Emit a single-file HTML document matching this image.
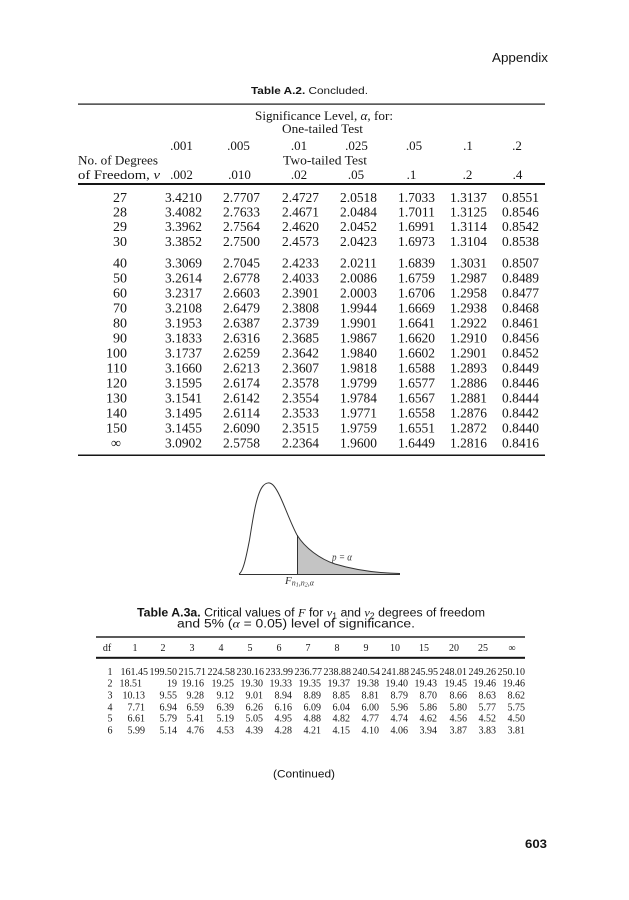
<!DOCTYPE html>
<html>
<head>
<meta charset="utf-8">
<style>
  html,body{margin:0;padding:0;background:#fff;}
  svg{display:block;}
  .serif{font-family:"Liberation Serif",serif;}
  .sans{font-family:"Liberation Sans",sans-serif;}
</style>
</head>
<body>
<svg width="629" height="900" viewBox="0 0 629 900" xmlns="http://www.w3.org/2000/svg">
  <rect width="629" height="900" fill="#fff"/>
  <g fill="#151515">
    <text class="sans" x="492" y="62" font-size="13" textLength="56" lengthAdjust="spacingAndGlyphs">Appendix</text>
    <text class="sans" x="251" y="94" font-size="10.5" textLength="117" lengthAdjust="spacingAndGlyphs"><tspan font-weight="bold">Table A.2.</tspan> Concluded.</text>

    <rect x="78" y="103.5" width="467" height="1.2"/>
    <rect x="78" y="183" width="467" height="2"/>
    <rect x="78" y="454.5" width="467" height="1.5"/>

    <g class="serif" font-size="13">
      <text x="255" y="120" textLength="138" lengthAdjust="spacingAndGlyphs">Significance Level, <tspan font-style="italic">α</tspan>, for:</text>
      <text x="282" y="133" textLength="81" lengthAdjust="spacingAndGlyphs">One-tailed Test</text>
      <text x="283" y="164.5" textLength="84" lengthAdjust="spacingAndGlyphs">Two-tailed Test</text>
      <text x="78" y="164.5" textLength="80" lengthAdjust="spacingAndGlyphs">No. of Degrees</text>
      <text x="78" y="179" textLength="82" lengthAdjust="spacingAndGlyphs">of Freedom, <tspan font-style="italic">ν</tspan></text>
    </g>
    <g class="serif" font-size="13" text-anchor="middle">
      <text x="181.5" y="150">.001</text>
      <text x="238.5" y="150">.005</text>
      <text x="299" y="150">.01</text>
      <text x="356.5" y="150">.025</text>
      <text x="414" y="150">.05</text>
      <text x="468" y="150">.1</text>
      <text x="517" y="150">.2</text>
      <text x="181.5" y="179">.002</text>
      <text x="239.5" y="179">.010</text>
      <text x="299" y="179">.02</text>
      <text x="356" y="179">.05</text>
      <text x="411.5" y="179">.1</text>
      <text x="467.5" y="179">.2</text>
      <text x="517.5" y="179">.4</text>
    </g>

    <g class="serif" font-size="14">
      <g text-anchor="end">
        <text x="127" y="201.8">27</text>
        <text x="127" y="216.5">28</text>
        <text x="127" y="231.2">29</text>
        <text x="127" y="245.9">30</text>
        <text x="127" y="267.7">40</text>
        <text x="127" y="282.7">50</text>
        <text x="127" y="297.7">60</text>
        <text x="127" y="312.7">70</text>
        <text x="127" y="327.7">80</text>
        <text x="127" y="342.7">90</text>
        <text x="127" y="357.7">100</text>
        <text x="127" y="372.7">110</text>
        <text x="127" y="387.7">120</text>
        <text x="127" y="402.7">130</text>
        <text x="127" y="417.7">140</text>
        <text x="127" y="432.7">150</text>
      </g>
      <text x="116" y="447.7" text-anchor="middle">∞</text>
    </g>
  </g>

  <g class="serif" font-size="14" fill="#151515">
    <g>
      <text x="165" y="201.8" textLength="37" lengthAdjust="spacingAndGlyphs">3.4210</text>
      <text x="223" y="201.8" textLength="37" lengthAdjust="spacingAndGlyphs">2.7707</text>
      <text x="282" y="201.8" textLength="37" lengthAdjust="spacingAndGlyphs">2.4727</text>
      <text x="340" y="201.8" textLength="37" lengthAdjust="spacingAndGlyphs">2.0518</text>
      <text x="398" y="201.8" textLength="37" lengthAdjust="spacingAndGlyphs">1.7033</text>
      <text x="450" y="201.8" textLength="37" lengthAdjust="spacingAndGlyphs">1.3137</text>
      <text x="502" y="201.8" textLength="37" lengthAdjust="spacingAndGlyphs">0.8551</text>
    </g>
    <g>
      <text x="165" y="216.5" textLength="37" lengthAdjust="spacingAndGlyphs">3.4082</text>
      <text x="223" y="216.5" textLength="37" lengthAdjust="spacingAndGlyphs">2.7633</text>
      <text x="282" y="216.5" textLength="37" lengthAdjust="spacingAndGlyphs">2.4671</text>
      <text x="340" y="216.5" textLength="37" lengthAdjust="spacingAndGlyphs">2.0484</text>
      <text x="398" y="216.5" textLength="37" lengthAdjust="spacingAndGlyphs">1.7011</text>
      <text x="450" y="216.5" textLength="37" lengthAdjust="spacingAndGlyphs">1.3125</text>
      <text x="502" y="216.5" textLength="37" lengthAdjust="spacingAndGlyphs">0.8546</text>
    </g>
    <g>
      <text x="165" y="231.2" textLength="37" lengthAdjust="spacingAndGlyphs">3.3962</text>
      <text x="223" y="231.2" textLength="37" lengthAdjust="spacingAndGlyphs">2.7564</text>
      <text x="282" y="231.2" textLength="37" lengthAdjust="spacingAndGlyphs">2.4620</text>
      <text x="340" y="231.2" textLength="37" lengthAdjust="spacingAndGlyphs">2.0452</text>
      <text x="398" y="231.2" textLength="37" lengthAdjust="spacingAndGlyphs">1.6991</text>
      <text x="450" y="231.2" textLength="37" lengthAdjust="spacingAndGlyphs">1.3114</text>
      <text x="502" y="231.2" textLength="37" lengthAdjust="spacingAndGlyphs">0.8542</text>
    </g>
    <g>
      <text x="165" y="245.9" textLength="37" lengthAdjust="spacingAndGlyphs">3.3852</text>
      <text x="223" y="245.9" textLength="37" lengthAdjust="spacingAndGlyphs">2.7500</text>
      <text x="282" y="245.9" textLength="37" lengthAdjust="spacingAndGlyphs">2.4573</text>
      <text x="340" y="245.9" textLength="37" lengthAdjust="spacingAndGlyphs">2.0423</text>
      <text x="398" y="245.9" textLength="37" lengthAdjust="spacingAndGlyphs">1.6973</text>
      <text x="450" y="245.9" textLength="37" lengthAdjust="spacingAndGlyphs">1.3104</text>
      <text x="502" y="245.9" textLength="37" lengthAdjust="spacingAndGlyphs">0.8538</text>
    </g>
    <g>
      <text x="165" y="267.7" textLength="37" lengthAdjust="spacingAndGlyphs">3.3069</text>
      <text x="223" y="267.7" textLength="37" lengthAdjust="spacingAndGlyphs">2.7045</text>
      <text x="282" y="267.7" textLength="37" lengthAdjust="spacingAndGlyphs">2.4233</text>
      <text x="340" y="267.7" textLength="37" lengthAdjust="spacingAndGlyphs">2.0211</text>
      <text x="398" y="267.7" textLength="37" lengthAdjust="spacingAndGlyphs">1.6839</text>
      <text x="450" y="267.7" textLength="37" lengthAdjust="spacingAndGlyphs">1.3031</text>
      <text x="502" y="267.7" textLength="37" lengthAdjust="spacingAndGlyphs">0.8507</text>
    </g>
    <g>
      <text x="165" y="282.7" textLength="37" lengthAdjust="spacingAndGlyphs">3.2614</text>
      <text x="223" y="282.7" textLength="37" lengthAdjust="spacingAndGlyphs">2.6778</text>
      <text x="282" y="282.7" textLength="37" lengthAdjust="spacingAndGlyphs">2.4033</text>
      <text x="340" y="282.7" textLength="37" lengthAdjust="spacingAndGlyphs">2.0086</text>
      <text x="398" y="282.7" textLength="37" lengthAdjust="spacingAndGlyphs">1.6759</text>
      <text x="450" y="282.7" textLength="37" lengthAdjust="spacingAndGlyphs">1.2987</text>
      <text x="502" y="282.7" textLength="37" lengthAdjust="spacingAndGlyphs">0.8489</text>
    </g>
    <g>
      <text x="165" y="297.7" textLength="37" lengthAdjust="spacingAndGlyphs">3.2317</text>
      <text x="223" y="297.7" textLength="37" lengthAdjust="spacingAndGlyphs">2.6603</text>
      <text x="282" y="297.7" textLength="37" lengthAdjust="spacingAndGlyphs">2.3901</text>
      <text x="340" y="297.7" textLength="37" lengthAdjust="spacingAndGlyphs">2.0003</text>
      <text x="398" y="297.7" textLength="37" lengthAdjust="spacingAndGlyphs">1.6706</text>
      <text x="450" y="297.7" textLength="37" lengthAdjust="spacingAndGlyphs">1.2958</text>
      <text x="502" y="297.7" textLength="37" lengthAdjust="spacingAndGlyphs">0.8477</text>
    </g>
    <g>
      <text x="165" y="312.7" textLength="37" lengthAdjust="spacingAndGlyphs">3.2108</text>
      <text x="223" y="312.7" textLength="37" lengthAdjust="spacingAndGlyphs">2.6479</text>
      <text x="282" y="312.7" textLength="37" lengthAdjust="spacingAndGlyphs">2.3808</text>
      <text x="340" y="312.7" textLength="37" lengthAdjust="spacingAndGlyphs">1.9944</text>
      <text x="398" y="312.7" textLength="37" lengthAdjust="spacingAndGlyphs">1.6669</text>
      <text x="450" y="312.7" textLength="37" lengthAdjust="spacingAndGlyphs">1.2938</text>
      <text x="502" y="312.7" textLength="37" lengthAdjust="spacingAndGlyphs">0.8468</text>
    </g>
    <g>
      <text x="165" y="327.7" textLength="37" lengthAdjust="spacingAndGlyphs">3.1953</text>
      <text x="223" y="327.7" textLength="37" lengthAdjust="spacingAndGlyphs">2.6387</text>
      <text x="282" y="327.7" textLength="37" lengthAdjust="spacingAndGlyphs">2.3739</text>
      <text x="340" y="327.7" textLength="37" lengthAdjust="spacingAndGlyphs">1.9901</text>
      <text x="398" y="327.7" textLength="37" lengthAdjust="spacingAndGlyphs">1.6641</text>
      <text x="450" y="327.7" textLength="37" lengthAdjust="spacingAndGlyphs">1.2922</text>
      <text x="502" y="327.7" textLength="37" lengthAdjust="spacingAndGlyphs">0.8461</text>
    </g>
    <g>
      <text x="165" y="342.7" textLength="37" lengthAdjust="spacingAndGlyphs">3.1833</text>
      <text x="223" y="342.7" textLength="37" lengthAdjust="spacingAndGlyphs">2.6316</text>
      <text x="282" y="342.7" textLength="37" lengthAdjust="spacingAndGlyphs">2.3685</text>
      <text x="340" y="342.7" textLength="37" lengthAdjust="spacingAndGlyphs">1.9867</text>
      <text x="398" y="342.7" textLength="37" lengthAdjust="spacingAndGlyphs">1.6620</text>
      <text x="450" y="342.7" textLength="37" lengthAdjust="spacingAndGlyphs">1.2910</text>
      <text x="502" y="342.7" textLength="37" lengthAdjust="spacingAndGlyphs">0.8456</text>
    </g>
    <g>
      <text x="165" y="357.7" textLength="37" lengthAdjust="spacingAndGlyphs">3.1737</text>
      <text x="223" y="357.7" textLength="37" lengthAdjust="spacingAndGlyphs">2.6259</text>
      <text x="282" y="357.7" textLength="37" lengthAdjust="spacingAndGlyphs">2.3642</text>
      <text x="340" y="357.7" textLength="37" lengthAdjust="spacingAndGlyphs">1.9840</text>
      <text x="398" y="357.7" textLength="37" lengthAdjust="spacingAndGlyphs">1.6602</text>
      <text x="450" y="357.7" textLength="37" lengthAdjust="spacingAndGlyphs">1.2901</text>
      <text x="502" y="357.7" textLength="37" lengthAdjust="spacingAndGlyphs">0.8452</text>
    </g>
    <g>
      <text x="165" y="372.7" textLength="37" lengthAdjust="spacingAndGlyphs">3.1660</text>
      <text x="223" y="372.7" textLength="37" lengthAdjust="spacingAndGlyphs">2.6213</text>
      <text x="282" y="372.7" textLength="37" lengthAdjust="spacingAndGlyphs">2.3607</text>
      <text x="340" y="372.7" textLength="37" lengthAdjust="spacingAndGlyphs">1.9818</text>
      <text x="398" y="372.7" textLength="37" lengthAdjust="spacingAndGlyphs">1.6588</text>
      <text x="450" y="372.7" textLength="37" lengthAdjust="spacingAndGlyphs">1.2893</text>
      <text x="502" y="372.7" textLength="37" lengthAdjust="spacingAndGlyphs">0.8449</text>
    </g>
    <g>
      <text x="165" y="387.7" textLength="37" lengthAdjust="spacingAndGlyphs">3.1595</text>
      <text x="223" y="387.7" textLength="37" lengthAdjust="spacingAndGlyphs">2.6174</text>
      <text x="282" y="387.7" textLength="37" lengthAdjust="spacingAndGlyphs">2.3578</text>
      <text x="340" y="387.7" textLength="37" lengthAdjust="spacingAndGlyphs">1.9799</text>
      <text x="398" y="387.7" textLength="37" lengthAdjust="spacingAndGlyphs">1.6577</text>
      <text x="450" y="387.7" textLength="37" lengthAdjust="spacingAndGlyphs">1.2886</text>
      <text x="502" y="387.7" textLength="37" lengthAdjust="spacingAndGlyphs">0.8446</text>
    </g>
    <g>
      <text x="165" y="402.7" textLength="37" lengthAdjust="spacingAndGlyphs">3.1541</text>
      <text x="223" y="402.7" textLength="37" lengthAdjust="spacingAndGlyphs">2.6142</text>
      <text x="282" y="402.7" textLength="37" lengthAdjust="spacingAndGlyphs">2.3554</text>
      <text x="340" y="402.7" textLength="37" lengthAdjust="spacingAndGlyphs">1.9784</text>
      <text x="398" y="402.7" textLength="37" lengthAdjust="spacingAndGlyphs">1.6567</text>
      <text x="450" y="402.7" textLength="37" lengthAdjust="spacingAndGlyphs">1.2881</text>
      <text x="502" y="402.7" textLength="37" lengthAdjust="spacingAndGlyphs">0.8444</text>
    </g>
    <g>
      <text x="165" y="417.7" textLength="37" lengthAdjust="spacingAndGlyphs">3.1495</text>
      <text x="223" y="417.7" textLength="37" lengthAdjust="spacingAndGlyphs">2.6114</text>
      <text x="282" y="417.7" textLength="37" lengthAdjust="spacingAndGlyphs">2.3533</text>
      <text x="340" y="417.7" textLength="37" lengthAdjust="spacingAndGlyphs">1.9771</text>
      <text x="398" y="417.7" textLength="37" lengthAdjust="spacingAndGlyphs">1.6558</text>
      <text x="450" y="417.7" textLength="37" lengthAdjust="spacingAndGlyphs">1.2876</text>
      <text x="502" y="417.7" textLength="37" lengthAdjust="spacingAndGlyphs">0.8442</text>
    </g>
    <g>
      <text x="165" y="432.7" textLength="37" lengthAdjust="spacingAndGlyphs">3.1455</text>
      <text x="223" y="432.7" textLength="37" lengthAdjust="spacingAndGlyphs">2.6090</text>
      <text x="282" y="432.7" textLength="37" lengthAdjust="spacingAndGlyphs">2.3515</text>
      <text x="340" y="432.7" textLength="37" lengthAdjust="spacingAndGlyphs">1.9759</text>
      <text x="398" y="432.7" textLength="37" lengthAdjust="spacingAndGlyphs">1.6551</text>
      <text x="450" y="432.7" textLength="37" lengthAdjust="spacingAndGlyphs">1.2872</text>
      <text x="502" y="432.7" textLength="37" lengthAdjust="spacingAndGlyphs">0.8440</text>
    </g>
    <g>
      <text x="165" y="447.7" textLength="37" lengthAdjust="spacingAndGlyphs">3.0902</text>
      <text x="223" y="447.7" textLength="37" lengthAdjust="spacingAndGlyphs">2.5758</text>
      <text x="282" y="447.7" textLength="37" lengthAdjust="spacingAndGlyphs">2.2364</text>
      <text x="340" y="447.7" textLength="37" lengthAdjust="spacingAndGlyphs">1.9600</text>
      <text x="398" y="447.7" textLength="37" lengthAdjust="spacingAndGlyphs">1.6449</text>
      <text x="450" y="447.7" textLength="37" lengthAdjust="spacingAndGlyphs">1.2816</text>
      <text x="502" y="447.7" textLength="37" lengthAdjust="spacingAndGlyphs">0.8416</text>
    </g>
  </g>

  <!-- F distribution figure -->
  <g>
    <path d="M297,535 C305,548 320,559 335,564 C355,570 375,573 400,573.5 L400,574 L297,574 Z" fill="#c4c4c4"/>
    <path d="M239,574 C243,572 246,558 249.5,540 C252.5,522 256,494 263,486 C266.5,482 270,482 273.5,485.5 C281,494 288,518 297,535 C305,548 320,559 335,564 C355,570 375,573 400,573.5" fill="none" stroke="#333" stroke-width="1"/>
    <line x1="239" y1="574.5" x2="400" y2="574.5" stroke="#333" stroke-width="1"/>
    <line x1="297.5" y1="535" x2="297.5" y2="574.5" stroke="#333" stroke-width="1"/>
    <text class="serif" x="332" y="560.5" font-size="10.5" font-style="italic" fill="#333" textLength="20" lengthAdjust="spacingAndGlyphs">p = α</text>
    <text class="serif" x="285" y="584" font-size="11" font-style="italic" fill="#333">F<tspan font-size="8" dy="1.5">n</tspan><tspan font-size="6" dy="1">1</tspan><tspan font-size="8" dy="-1">,n</tspan><tspan font-size="6" dy="1">2</tspan><tspan font-size="8" dy="-1">,α</tspan></text>
  </g>

  <!-- Caption -->
  <g class="sans" font-size="11.5" fill="#151515">
    <text x="137" y="616.5" textLength="348" lengthAdjust="spacingAndGlyphs"><tspan font-weight="bold">Table A.3a.</tspan> Critical values of <tspan font-family="Liberation Serif, serif" font-style="italic">F</tspan> for <tspan font-family="Liberation Serif, serif" font-style="italic">ν</tspan><tspan font-size="8" dy="2">1</tspan><tspan dy="-2"> and </tspan><tspan font-family="Liberation Serif, serif" font-style="italic">ν</tspan><tspan font-size="8" dy="2">2</tspan><tspan dy="-2"> degrees of freedom</tspan></text>
    <text x="177" y="627.5" textLength="238" lengthAdjust="spacingAndGlyphs">and 5% (<tspan font-family="Liberation Serif, serif" font-style="italic">α</tspan> = 0.05) level of significance.</text>
  </g>

  <!-- F table -->
  <g fill="#151515">
    <rect x="96" y="636.3" width="429" height="1.4"/>
    <rect x="96" y="656.8" width="429" height="2"/>
    <g class="serif" font-size="10" text-anchor="middle">
      <text x="107" y="651">df</text>
      <text x="135" y="651">1</text>
      <text x="163" y="651">2</text>
      <text x="192" y="651">3</text>
      <text x="221" y="651">4</text>
      <text x="250" y="651">5</text>
      <text x="279" y="651">6</text>
      <text x="308" y="651">7</text>
      <text x="337" y="651">8</text>
      <text x="366" y="651">9</text>
      <text x="395" y="651">10</text>
      <text x="424" y="651">15</text>
      <text x="454" y="651">20</text>
      <text x="483" y="651">25</text>
      <text x="512" y="651">∞</text>
      <text x="110" y="675">1</text>
      <text x="110" y="686.5">2</text>
      <text x="110" y="698.5">3</text>
      <text x="110" y="710.5">4</text>
      <text x="110" y="721.5">5</text>
      <text x="110" y="733.5">6</text>
    </g>
    <g class="serif" font-size="10" text-anchor="end">
      <text x="148" y="675">161.45</text>
      <text x="177" y="675">199.50</text>
      <text x="206" y="675">215.71</text>
      <text x="235" y="675">224.58</text>
      <text x="264" y="675">230.16</text>
      <text x="293" y="675">233.99</text>
      <text x="322" y="675">236.77</text>
      <text x="351" y="675">238.88</text>
      <text x="380" y="675">240.54</text>
      <text x="409" y="675">241.88</text>
      <text x="438" y="675">245.95</text>
      <text x="467" y="675">248.01</text>
      <text x="496" y="675">249.26</text>
      <text x="525" y="675">250.10</text>

      <text x="142" y="686.5">18.51</text>
      <text x="177" y="686.5">19</text>
      <text x="204" y="686.5">19.16</text>
      <text x="234" y="686.5">19.25</text>
      <text x="263" y="686.5">19.30</text>
      <text x="292" y="686.5">19.33</text>
      <text x="321" y="686.5">19.35</text>
      <text x="350" y="686.5">19.37</text>
      <text x="379" y="686.5">19.38</text>
      <text x="408" y="686.5">19.40</text>
      <text x="437" y="686.5">19.43</text>
      <text x="467" y="686.5">19.45</text>
      <text x="496" y="686.5">19.46</text>
      <text x="525" y="686.5">19.46</text>

      <text x="145" y="698.5">10.13</text>
      <text x="177" y="698.5">9.55</text>
      <text x="204" y="698.5">9.28</text>
      <text x="234" y="698.5">9.12</text>
      <text x="263" y="698.5">9.01</text>
      <text x="292" y="698.5">8.94</text>
      <text x="321" y="698.5">8.89</text>
      <text x="350" y="698.5">8.85</text>
      <text x="379" y="698.5">8.81</text>
      <text x="408" y="698.5">8.79</text>
      <text x="437" y="698.5">8.70</text>
      <text x="467" y="698.5">8.66</text>
      <text x="496" y="698.5">8.63</text>
      <text x="525" y="698.5">8.62</text>

      <text x="145" y="710.5">7.71</text>
      <text x="177" y="710.5">6.94</text>
      <text x="204" y="710.5">6.59</text>
      <text x="234" y="710.5">6.39</text>
      <text x="263" y="710.5">6.26</text>
      <text x="292" y="710.5">6.16</text>
      <text x="321" y="710.5">6.09</text>
      <text x="350" y="710.5">6.04</text>
      <text x="379" y="710.5">6.00</text>
      <text x="408" y="710.5">5.96</text>
      <text x="437" y="710.5">5.86</text>
      <text x="467" y="710.5">5.80</text>
      <text x="496" y="710.5">5.77</text>
      <text x="525" y="710.5">5.75</text>

      <text x="145" y="721.5">6.61</text>
      <text x="177" y="721.5">5.79</text>
      <text x="204" y="721.5">5.41</text>
      <text x="234" y="721.5">5.19</text>
      <text x="263" y="721.5">5.05</text>
      <text x="292" y="721.5">4.95</text>
      <text x="321" y="721.5">4.88</text>
      <text x="350" y="721.5">4.82</text>
      <text x="379" y="721.5">4.77</text>
      <text x="408" y="721.5">4.74</text>
      <text x="437" y="721.5">4.62</text>
      <text x="467" y="721.5">4.56</text>
      <text x="496" y="721.5">4.52</text>
      <text x="525" y="721.5">4.50</text>

      <text x="145" y="733.5">5.99</text>
      <text x="177" y="733.5">5.14</text>
      <text x="204" y="733.5">4.76</text>
      <text x="234" y="733.5">4.53</text>
      <text x="263" y="733.5">4.39</text>
      <text x="292" y="733.5">4.28</text>
      <text x="321" y="733.5">4.21</text>
      <text x="350" y="733.5">4.15</text>
      <text x="379" y="733.5">4.10</text>
      <text x="408" y="733.5">4.06</text>
      <text x="437" y="733.5">3.94</text>
      <text x="467" y="733.5">3.87</text>
      <text x="496" y="733.5">3.83</text>
      <text x="525" y="733.5">3.81</text>
    </g>

    <text class="sans" x="273" y="777.5" font-size="11" textLength="62" lengthAdjust="spacingAndGlyphs">(Continued)</text>
    <text class="sans" x="525" y="848" font-size="12" font-weight="bold" textLength="22" lengthAdjust="spacingAndGlyphs">603</text>
  </g>
</svg>
</body>
</html>
